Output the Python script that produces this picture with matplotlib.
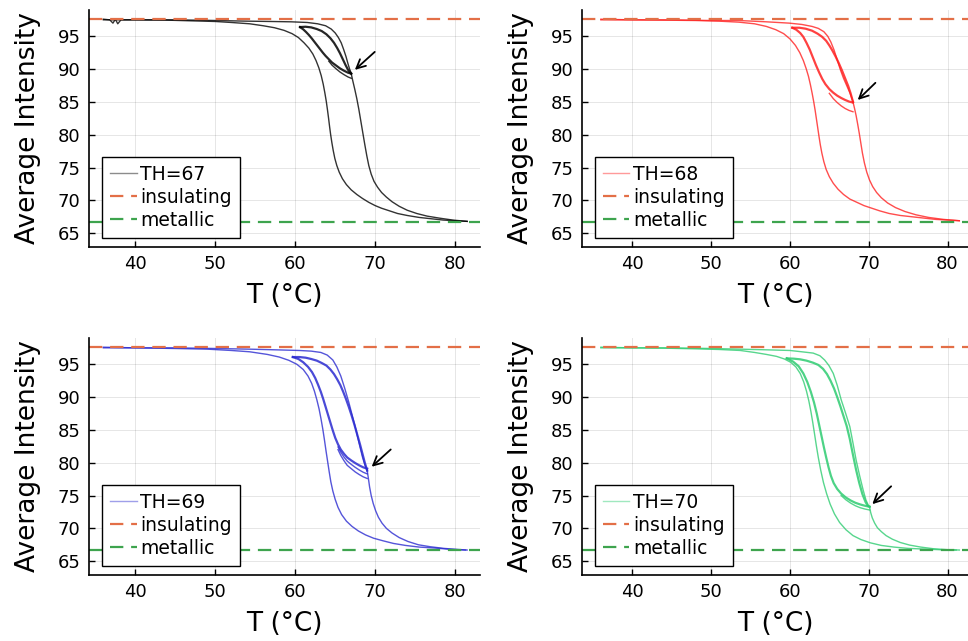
import matplotlib.pyplot as plt

# levels of the two phases
insulating_level = 97.6
metallic_level = 66.7

# ---- TH = 67 ----
th67_heat1_T = [36.0, 36.8, 37.2, 37.5, 37.8, 38.2, 40, 45, 50, 54, 57, 59.5, 61.5, 62.8, 63.8, 64.5, 65.0, 65.4, 65.75,
                66.05, 66.35, 66.6, 66.8, 67.0]
th67_heat1_I = [97.6, 97.5, 97.0, 97.6, 96.9, 97.5, 97.5, 97.5, 97.4, 97.3, 97.25, 97.2, 97.1, 96.9, 96.6, 96.1, 95.5, 94.8, 94.0,
                93.0, 91.9, 90.8, 90.0, 89.4]
th67_cool_T = [67.0, 66.6, 66.1, 65.6, 65.1, 64.6, 64.2, 63.8, 63.45, 63.1, 62.75, 62.4, 62.05, 61.7, 61.35, 61.0, 60.6]
th67_cool_I = [89.3, 89.45, 89.75, 90.1, 90.55, 91.0, 91.5, 92.0, 92.5, 93.05, 93.6, 94.15, 94.7, 95.2, 95.65, 96.05, 96.4]
th67_cool2_T = [67.0, 66.6, 66.1, 65.6, 65.1, 64.6, 64.2]
th67_cool2_I = [88.6, 88.8, 89.15, 89.55, 90.05, 90.6, 91.2]
th67_heat2_T = [60.6, 61.3, 62.0, 62.7, 63.3, 63.9, 64.4, 64.85, 65.25, 65.6, 65.95, 66.3, 66.6, 66.85, 67.0]
th67_heat2_I = [96.4, 96.45, 96.35, 96.1, 95.8, 95.3, 94.7, 94.0, 93.2, 92.4, 91.5, 90.6, 89.9, 89.5, 89.3]
th67_heat3_T = [67.0, 67.2, 67.45, 67.7, 67.95, 68.2, 68.45, 68.7, 68.95, 69.2, 69.5, 69.85, 70.3, 70.8, 71.4, 72.1, 73.0,
                74.0, 75.2, 76.5, 78.0, 79.7, 81.5]
th67_heat3_I = [89.3, 88.2, 86.9, 85.5, 83.9, 82.1, 80.3, 78.5, 76.8, 75.3, 74.0, 72.9, 72.0, 71.2, 70.5, 69.8, 69.1,
                68.5, 68.0, 67.6, 67.3, 67.0, 66.8]
th67_back_T = [81.5, 80, 78.5, 77, 75.5, 74, 72.8, 71.8, 70.8, 70.0, 69.2, 68.4, 67.7, 67.0, 66.4, 65.9, 65.5, 65.2, 64.95,
               64.75, 64.58, 64.43, 64.3, 64.17, 64.03, 63.88, 63.7, 63.5, 63.25, 62.95, 62.6, 62.2, 61.7, 61.1, 60.4,
               59.6, 58.6, 57.4, 56, 54.3, 52, 50, 47, 44, 40, 36]
th67_back_I = [66.8, 66.9, 67.0, 67.2, 67.4, 67.7, 68.0, 68.4, 68.8, 69.2, 69.7, 70.3, 70.9, 71.6, 72.4, 73.3, 74.3, 75.3, 76.4,
               77.6, 78.8, 80.0, 81.2, 82.5, 83.8, 85.1, 86.4, 87.7, 89.0, 90.2, 91.3, 92.3, 93.2, 94.0, 94.8,
               95.4, 95.9, 96.3, 96.6, 96.9, 97.1, 97.25, 97.35, 97.45, 97.5, 97.5]

# ---- TH = 68 ----
th68_heat1_T = [36, 40, 45, 50, 53.5, 57, 59.9, 61.5, 62.8, 63.6, 64.3, 64.8, 65.2, 65.6, 66.0, 66.4, 66.8, 67.2, 67.6, 68.0]
th68_heat1_I = [97.6, 97.5, 97.5, 97.4, 97.4, 97.2, 97.0, 96.8, 96.5, 96.2, 95.7, 95.0, 94.1, 92.9, 91.4, 89.9, 88.6, 87.5,
                86.4, 85.1]
th68_cool_T = [68.0, 67.5, 67.0, 66.5, 66.0, 65.5, 65.0, 64.5, 64.1, 63.7, 63.3, 62.9, 62.5, 62.1, 61.7, 61.3, 60.8, 60.3]
th68_cool_I = [84.9, 85.05, 85.3, 85.6, 85.95, 86.4, 86.95, 87.7, 88.5, 89.5, 90.6, 91.8, 93.0, 94.0, 94.9, 95.5, 96.0, 96.3]
th68_cool2_T = [68.0, 67.5, 67.0, 66.5, 66.0, 65.5, 65.0]
th68_cool2_I = [83.5, 83.7, 84.0, 84.4, 84.9, 85.5, 86.3]
th68_heat2_T = [60.3, 61.2, 62.0, 62.8, 63.5, 64.1, 64.6, 65.0, 65.4, 65.8, 66.2, 66.6, 67.0, 67.4, 67.7, 68.0]
th68_heat2_I = [96.3, 96.3, 96.15, 95.85, 95.4, 94.9, 94.3, 93.6, 92.8, 91.9, 90.9, 89.8, 88.6, 87.4, 86.3, 85.0]
th68_heat3_T = [68.0, 68.2, 68.4, 68.6, 68.8, 69.0, 69.2, 69.45, 69.75, 70.1, 70.5, 71.0, 71.6, 72.4, 73.4, 74.6, 76.0,
                77.6, 79.5, 81.5]
th68_heat3_I = [85.0, 84.0, 82.9, 81.6, 80.2, 78.7, 77.2, 75.7, 74.3, 73.1, 72.1, 71.2, 70.4, 69.6, 68.9, 68.3, 67.8,
                67.4, 67.1, 66.9]
th68_back_T = [81.5, 80, 78.5, 77, 75.5, 74, 72.6, 71.4, 70.4, 69.4, 68.5, 67.6, 66.8, 66.1, 65.5, 65.0, 64.6, 64.3, 64.05,
               63.85, 63.68, 63.52, 63.36, 63.2, 63.02, 62.82, 62.6, 62.35, 62.05, 61.7, 61.25, 60.7, 60.0, 59.2, 58.2,
               57.0, 55.5, 53.5, 51, 48, 44, 40, 36]
th68_back_I = [66.9, 67.0, 67.1, 67.3, 67.5, 67.7, 68.0, 68.4, 68.8, 69.2, 69.7, 70.2, 70.9, 71.7, 72.6, 73.6, 74.7, 75.9, 77.2,
               78.5, 79.8, 81.1, 82.4, 83.7, 85.0, 86.3, 87.6, 88.9, 90.1, 91.3, 92.5, 93.6, 94.6, 95.4, 96.0,
               96.5, 96.9, 97.15, 97.3, 97.4, 97.45, 97.5, 97.5]

# ---- TH = 69 ----
th69_heat1_T = [36, 40, 45, 50, 54.25, 57.5, 60.5, 62.0, 63.2, 64.0, 64.7, 65.2, 65.7, 66.2, 66.7, 67.15, 67.6, 68.0, 68.4,
                68.7, 69.0]
th69_heat1_I = [97.6, 97.5, 97.5, 97.4, 97.3, 97.2, 97.1, 97.0, 96.8, 96.4, 95.65, 94.6, 93.2, 91.3, 89.2, 87.1, 85.0, 82.9, 80.9,
                79.7, 78.8]
th69_cool_T = [69.0, 68.5, 68.0, 67.5, 67.0, 66.5, 66.1, 65.7, 65.35, 65.0, 64.7, 64.4, 64.1, 63.8, 63.5, 63.2, 62.85,
               62.5, 62.1, 61.6, 61.0, 60.4, 59.7]
th69_cool_I = [79.1, 79.3, 79.6, 79.95, 80.35, 80.8, 81.35, 82.0, 82.8, 83.8, 84.9, 86.1, 87.3, 88.5, 89.7, 90.8, 91.9,
               92.9, 93.8, 94.6, 95.3, 95.8, 96.1]
th69_cool2_T = [69.0, 68.5, 68.0, 67.5, 67.0, 66.5, 66.1, 65.7, 65.35]
th69_cool2_I = [77.6, 77.85, 78.2, 78.6, 79.1, 79.6, 80.3, 81.1, 82.0]
th69_cool3_I = [78.3, 78.55, 78.9, 79.3, 79.75, 80.25, 80.85, 81.6, 82.4]
th69_heat2_T = [59.7, 60.5, 61.3, 62.0, 62.7, 63.3, 63.9, 64.4, 64.85, 65.25, 65.65, 66.0, 66.35, 66.7, 67.05, 67.4,
                67.75, 68.1, 68.4, 68.7, 69.0]
th69_heat2_I = [96.1, 96.1, 96.0, 95.8, 95.55, 95.2, 94.8, 94.2, 93.5, 92.7, 91.8, 90.8, 89.7, 88.5, 87.2, 85.8,
                84.3, 82.8, 81.4, 80.0, 78.8]
th69_heat3_T = [69.0, 69.15, 69.3, 69.5, 69.75, 70.05, 70.4, 70.85, 71.4, 72.1, 73.0, 74.1, 75.4, 76.9, 78.6, 80.2, 81.5]
th69_heat3_I = [78.8, 77.6, 76.3, 75.0, 73.8, 72.7, 71.7, 70.8, 70.0, 69.3, 68.6, 68.0, 67.5, 67.2, 66.95, 66.8, 66.7]
th69_back_T = [81.3, 79.5, 77.5, 75.5, 73.8, 72.3, 71.0, 69.8, 68.8, 67.9, 67.1, 66.4, 65.8, 65.35, 65.0, 64.7, 64.45,
               64.25, 64.05, 63.85, 63.65, 63.45, 63.22, 62.98, 62.7, 62.4, 62.05, 61.6, 61.0, 60.2, 59.2, 58.0, 56.5,
               54.3, 52, 49, 45, 40, 36]
th69_back_I = [66.7, 66.8, 67.0, 67.15, 67.4, 67.7, 68.1, 68.5, 69.0, 69.6, 70.3, 71.1, 72.1, 73.2, 74.4, 75.7, 77.1,
               78.6, 80.2, 81.8, 83.5, 85.1, 86.7, 88.2, 89.6, 90.9, 92.1, 93.2, 94.2, 95.0, 95.6, 96.1, 96.5,
               96.9, 97.1, 97.3, 97.4, 97.5, 97.5]

# ---- TH = 70 ----
th70_heat1_T = [36, 40, 45, 50, 53.7, 57, 60.0, 61.5, 62.95, 63.8, 64.4, 64.95, 65.5, 66.0, 66.5, 67.05, 67.6, 68.0, 68.4,
                68.85, 69.3, 69.65, 69.95, 70.1]
th70_heat1_I = [97.6, 97.5, 97.5, 97.4, 97.3, 97.2, 97.1, 96.9, 96.7, 96.3, 95.65, 94.8, 93.6, 91.8, 89.6, 87.6, 85.5, 83.0,
                80.4, 78.0, 75.8, 74.3, 73.5, 73.3]
th70_cool_T = [70.1, 69.5, 68.9, 68.3, 67.7, 67.1, 66.5, 66.0, 65.55, 65.2, 64.9, 64.6, 64.3, 64.0, 63.7, 63.4, 63.05,
               62.65, 62.2, 61.7, 61.1, 60.4, 59.6]
th70_cool_I = [73.3, 73.45, 73.65, 73.9, 74.25, 74.7, 75.3, 76.0, 76.9, 78.0, 79.3, 80.8, 82.4, 84.1, 85.8, 87.5, 89.2,
               90.8, 92.3, 93.6, 94.7, 95.4, 95.9]
th70_cool2_T = [70.1, 69.5, 68.9, 68.3, 67.7, 67.1, 66.5]
th70_cool2_I = [72.8, 72.95, 73.15, 73.45, 73.85, 74.35, 75.0]
th70_heat2_T = [59.6, 60.5, 61.3, 62.1, 62.9, 63.6, 64.2, 64.7, 65.15, 65.6, 66.0, 66.4, 66.8, 67.2, 67.6, 68.0, 68.4,
                68.8, 69.2, 69.6, 69.9, 70.1]
th70_heat2_I = [95.9, 95.85, 95.75, 95.55, 95.25, 94.9, 94.3, 93.5, 92.5, 91.3, 90.0, 88.6, 87.1, 85.6, 83.6, 81.2, 78.9,
                76.9, 75.2, 74.0, 73.4, 73.3]
th70_heat3_T = [70.1, 70.25, 70.45, 70.75, 71.1, 71.6, 72.2, 73.0, 74.0, 75.2, 76.6, 78.2, 80.0, 81.5]
th70_heat3_I = [73.3, 72.4, 71.6, 70.8, 70.1, 69.5, 68.9, 68.35, 67.85, 67.45, 67.15, 66.9, 66.75, 66.7]
th70_back_T = [81.1, 79, 77, 75.0, 73.2, 71.6, 70.2, 69.0, 68.0, 67.1, 66.3, 65.65, 65.1, 64.65, 64.25, 63.9, 63.6, 63.35,
               63.12, 62.9, 62.66, 62.4, 62.1, 61.75, 61.3, 60.75, 60.1, 59.3, 58.3, 57.0, 55.5, 53.7, 51, 48, 44, 40, 36]
th70_back_I = [66.7, 66.75, 66.85, 66.95, 67.15, 67.4, 67.8, 68.3, 68.9, 69.8, 70.9, 72.2, 73.7, 75.3, 77.0, 78.9, 80.8, 82.6,
               84.4, 86.1, 87.8, 89.4, 90.9, 92.3, 93.6, 94.6, 95.3, 95.8, 96.2, 96.5, 96.8, 97.1, 97.25, 97.35, 97.45, 97.5, 97.5]

panel_labels = ['TH=67', 'TH=68', 'TH=69', 'TH=70']
panel_colors = ['black', '#ff2020', '#2a2ad0', '#2ecc71']
arrow_tips = [(67.2, 89.6), (68.35, 85.0), (69.3, 79.1), (70.2, 73.4)]
arrow_tails = [(70.2, 92.9), (71.1, 88.2), (72.2, 82.3), (73.1, 76.7)]

# thin single passes and the repeated minor-loop passes
single_curves = [
    [(th67_heat1_T, th67_heat1_I), (th67_heat3_T, th67_heat3_I), (th67_back_T, th67_back_I), (th67_cool2_T, th67_cool2_I)],
    [(th68_heat1_T, th68_heat1_I), (th68_heat3_T, th68_heat3_I), (th68_back_T, th68_back_I), (th68_cool2_T, th68_cool2_I)],
    [(th69_heat1_T, th69_heat1_I), (th69_heat3_T, th69_heat3_I), (th69_back_T, th69_back_I), (th69_cool2_T, th69_cool2_I),
     (th69_cool2_T, th69_cool3_I)],
    [(th70_heat1_T, th70_heat1_I), (th70_heat3_T, th70_heat3_I), (th70_back_T, th70_back_I), (th70_cool2_T, th70_cool2_I)],
]
repeated_curves = [
    [(th67_cool_T, th67_cool_I), (th67_heat2_T, th67_heat2_I)],
    [(th68_cool_T, th68_cool_I), (th68_heat2_T, th68_heat2_I)],
    [(th69_cool_T, th69_cool_I), (th69_heat2_T, th69_heat2_I)],
    [(th70_cool_T, th70_cool_I), (th70_heat2_T, th70_heat2_I)],
]

fig = plt.figure(figsize=(9.68, 6.41), dpi=100)
positions = [
    [0.0919, 0.6147, 0.4039, 0.3697],
    [0.6012, 0.6147, 0.3988, 0.3697],
    [0.0919, 0.1030, 0.4039, 0.3697],
    [0.6012, 0.1030, 0.3988, 0.3697],
]
xlims = [(34.2, 83.1), (33.6, 82.6), (34.2, 83.1), (33.6, 82.6)]

for i in range(4):
    ax = fig.add_axes(positions[i])
    c = panel_colors[i]
    for T, I in single_curves[i]:
        ax.plot(T, I, color=c, lw=1.0, alpha=0.8)
    for T, I in repeated_curves[i]:
        ax.plot(T, I, color=c, lw=1.6, alpha=0.85)
    ax.plot([], [], color=c, lw=1.0, alpha=0.45, label=panel_labels[i])
    ax.axhline(insulating_level, color='#e36f47', lw=1.6, ls=(0, (6, 3.5)), label='insulating')
    ax.axhline(metallic_level, color='#3ea44e', lw=1.6, ls=(0, (6, 3.5)), label='metallic')
    ax.annotate('', xy=arrow_tips[i], xytext=arrow_tails[i],
                arrowprops=dict(arrowstyle='->', color='black', lw=1.3, mutation_scale=16))

    ax.set_xlim(*xlims[i])
    ax.set_ylim(62.9, 99.0)
    ax.set_xticks([40, 50, 60, 70, 80])
    ax.set_yticks([65, 70, 75, 80, 85, 90, 95])
    ax.grid(True, color='black', alpha=0.1, lw=0.7)
    for s in ['top', 'right']:
        ax.spines[s].set_visible(False)
    for s in ['left', 'bottom']:
        ax.spines[s].set_linewidth(1.2)
    ax.tick_params(direction='in', length=4, width=1, labelsize=13, pad=6)
    ax.set_xlabel('T (°C)', fontsize=19, labelpad=7)
    ax.set_ylabel('Average Intensity', fontsize=19, labelpad=12)
    leg = ax.legend(loc='lower left', bbox_to_anchor=(0.033, 0.038), borderaxespad=0,
                    fontsize=13.5, handlelength=1.4, handletextpad=0.2, labelspacing=0.2,
                    borderpad=0.45, fancybox=False, framealpha=1)
    leg.get_frame().set_edgecolor('black')
    leg.get_frame().set_linewidth(1.0)

fig.savefig('out.png', dpi=100)
